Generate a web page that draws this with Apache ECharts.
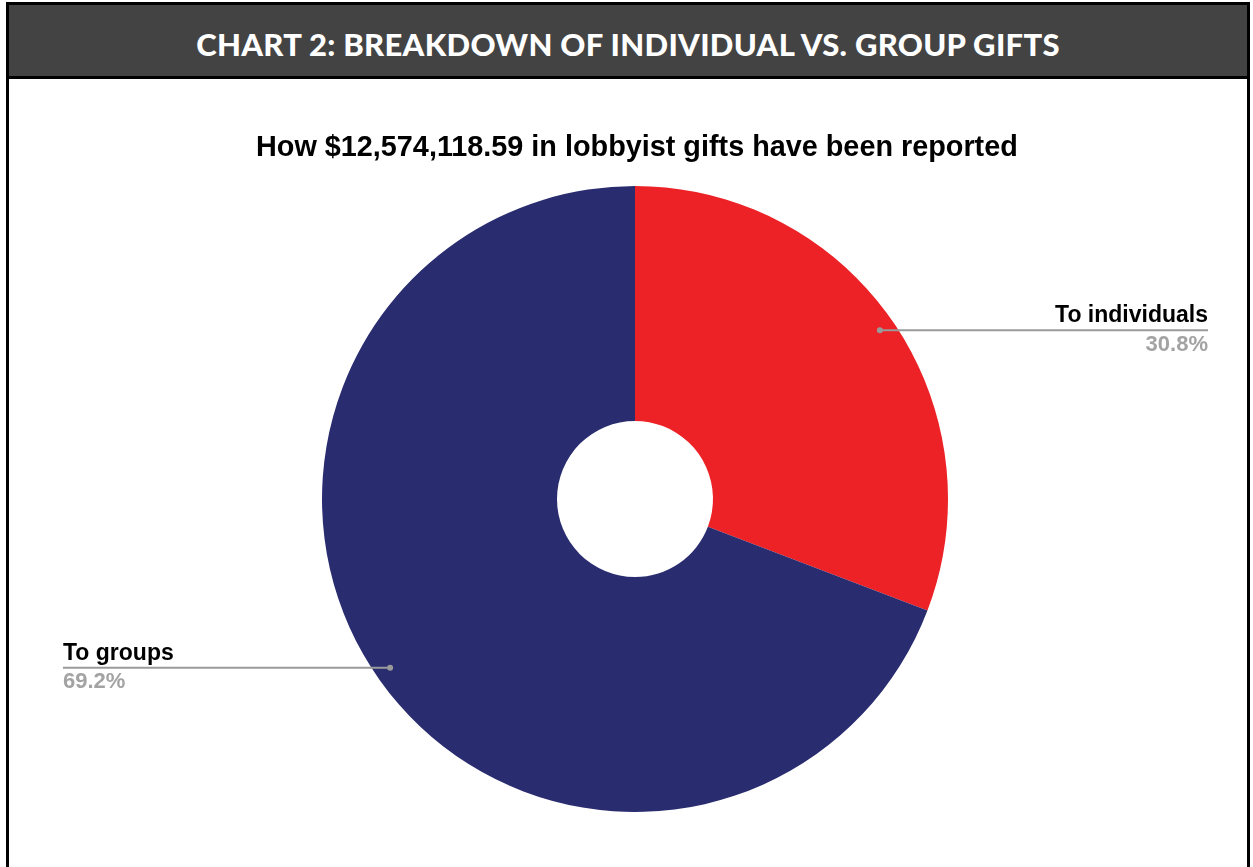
<!DOCTYPE html>
<html>
<head>
<meta charset="utf-8">
<title>Chart 2</title>
<script src="https://cdn.jsdelivr.net/npm/echarts@6/dist/echarts.min.js"></script>
<style>
    html, body {
        margin: 0;
        padding: 0;
        background: #fff;
        width: 1253px;
        height: 867px;
        overflow: hidden;
    }
    .frame {
        position: absolute;
        left: 6px;
        top: 2px;
        width: 1238px;
        height: 900px;
        border: 3px solid #000;
    }
    .frame-head {
        height: 71px;
        background-color: #434343;
        border-bottom: 3px solid #000;
        color: #fff;
        font-family: Lato, "Open Sans", sans-serif;
        font-weight: 900;
        font-size: 31px;
        text-align: center;
        line-height: 78px;
        letter-spacing: 0.3px;
    }
    #pie-chart {
        position: absolute;
        left: 0;
        top: 0;
        width: 1253px;
        height: 867px;
    }
</style>
</head>
<body>
<div class="frame">
    <div class="frame-head">CHART 2: BREAKDOWN OF INDIVIDUAL VS. GROUP GIFTS</div>
</div>
<div id="pie-chart"></div>

<script>
    // 数据
    const chartTitle = 'How $12,574,118.59 in lobbyist gifts have been reported';
    const sliceNames = ['To individuals', 'To groups'];
    const sliceShares = [30.8, 69.2];
    const sliceColors = ['#ec2227', '#292c6f'];

    const cx = 635, cy = 499, rOuter = 313, rInner = 78;
    const fontName = '"Liberation Sans", Arial, Helvetica, sans-serif';

    let myChart = echarts.init(document.getElementById('pie-chart'));

    // where the little dot sits on each slice (mid-angle, a bit inside the rim)
    let total = sliceShares.reduce((a, b) => a + b, 0);
    let acc = 0;
    let dots = sliceShares.map(v => {
        let mid = 90 - (acc + v / 2) / total * 360;
        acc += v;
        let rad = mid * Math.PI / 180;
        return [cx + rOuter * 0.95 * Math.cos(rad), cy - rOuter * 0.95 * Math.sin(rad)];
    });

    let pieData = sliceNames.map((n, i) => ({
        name: n,
        value: sliceShares[i],
        itemStyle: {color: sliceColors[i]}
    }));

    let option = {
        backgroundColor: 'transparent',
        animation: false,
        title: {
            text: chartTitle,
            left: 251,
            top: 129,
            textStyle: {
                fontFamily: fontName,
                fontWeight: 'bold',
                fontSize: 28.8,
                color: '#000'
            }
        },
        series: [
            {
                type: 'pie',
                center: [cx, cy],
                radius: [rInner, rOuter],
                startAngle: 90,
                clockwise: true,
                silent: true,
                data: pieData,
                label: {show: false},
                labelLine: {show: false}
            },
            {
                // same slices again, invisible, only to put labels + lines on top
                type: 'pie',
                z: 5,
                center: [cx, cy],
                radius: [rInner, rOuter],
                startAngle: 90,
                clockwise: true,
                silent: true,
                avoidLabelOverlap: false,
                data: pieData.map(d => ({name: d.name, value: d.value})),
                itemStyle: {color: 'rgba(0,0,0,0)'},
                label: {
                    show: true,
                    formatter: p => '{n|' + p.name + '}\n{p|' + sliceShares[p.dataIndex].toFixed(1) + '%}',
                    rich: {
                        n: {
                            fontFamily: fontName,
                            fontWeight: 'bold',
                            fontSize: 23,
                            color: '#000',
                            lineHeight: 29
                        },
                        p: {
                            fontFamily: fontName,
                            fontWeight: 'bold',
                            fontSize: 22,
                            color: '#a3a3a3',
                            lineHeight: 29
                        }
                    }
                },
                labelLine: {
                    show: true,
                    lineStyle: {color: '#9a9a9a', width: 2}
                },
                labelLayout: function (params) {
                    let d = dots[params.dataIndex];
                    let endX = params.dataIndex === 0 ? 1208 : 63;
                    return {
                        x: endX,
                        y: d[1],
                        align: params.dataIndex === 0 ? 'right' : 'left',
                        verticalAlign: 'middle',
                        labelLinePoints: [d, [(d[0] + endX) / 2, d[1]], [endX, d[1]]]
                    };
                }
            }
        ],
        graphic: dots.map(d => ({
            type: 'circle',
            shape: {cx: d[0], cy: d[1], r: 3},
            style: {fill: '#9a9a9a'},
            z: 100
        }))
    };

    myChart.setOption(option);
</script>
</body>
</html>
